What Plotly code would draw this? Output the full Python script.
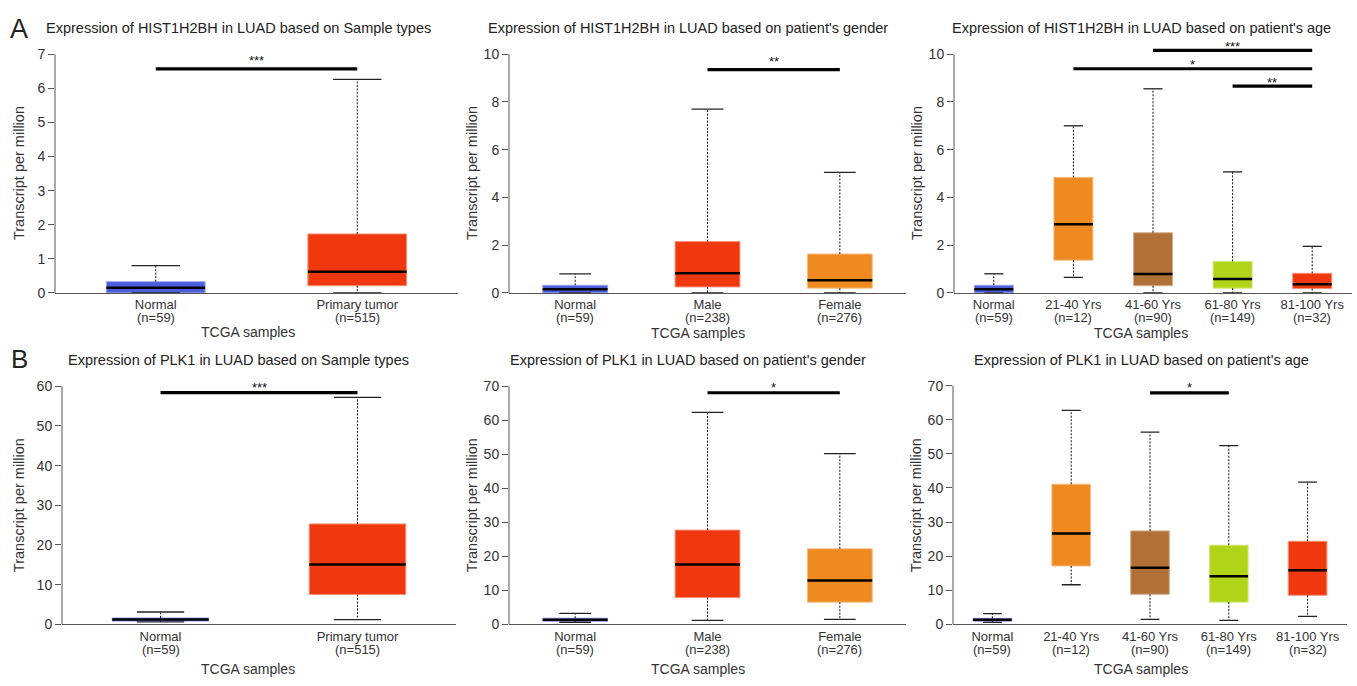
import plotly.graph_objects as go

OFF = 0
W, H = 1357, 686
FONT = "Liberation Sans, Arial, Helvetica, sans-serif"

# ---------------- data ----------------
cats_type = ["Normal", "Primary tumor"]
ns_type = ["(n=59)", "(n=515)"]
cats_gender = ["Normal", "Male", "Female"]
ns_gender = ["(n=59)", "(n=238)", "(n=276)"]
cats_age = ["Normal", "21-40 Yrs", "41-60 Yrs", "61-80 Yrs", "81-100 Yrs"]
ns_age = ["(n=59)", "(n=12)", "(n=90)", "(n=149)", "(n=32)"]

BLUE, RED, ORANGE, BROWN, GREEN = "#4b5fdd", "#f0380f", "#ee8a20", "#b07038", "#b0d418"
colors_type = [BLUE, RED]
colors_gender = [BLUE, RED, ORANGE]
colors_age = [BLUE, ORANGE, BROWN, GREEN, RED]

# HIST1H2BH
hA_type_low = [0.0, 0.0]
hA_type_q1 = [0.0, 0.21]
hA_type_med = [0.15, 0.62]
hA_type_q3 = [0.33, 1.73]
hA_type_up = [0.80, 6.26]

hA_gen_low = [0.0, 0.0, 0.0]
hA_gen_q1 = [0.0, 0.25, 0.20]
hA_gen_med = [0.15, 0.82, 0.53]
hA_gen_q3 = [0.32, 2.15, 1.63]
hA_gen_up = [0.80, 7.70, 5.05]

hA_age_low = [0.0, 0.65, 0.0, 0.0, 0.0]
hA_age_q1 = [0.0, 1.37, 0.30, 0.20, 0.18]
hA_age_med = [0.15, 2.88, 0.79, 0.58, 0.36]
hA_age_q3 = [0.32, 4.84, 2.52, 1.32, 0.82]
hA_age_up = [0.80, 7.00, 8.55, 5.07, 1.95]

# PLK1
pB_type_low = [0.6, 1.2]
pB_type_q1 = [0.8, 7.5]
pB_type_med = [1.2, 15.1]
pB_type_q3 = [1.6, 25.3]
pB_type_up = [3.1, 57.2]

pB_gen_low = [0.6, 1.15, 1.45]
pB_gen_q1 = [0.9, 7.85, 6.5]
pB_gen_med = [1.3, 17.6, 12.9]
pB_gen_q3 = [1.8, 27.7, 22.2]
pB_gen_up = [3.2, 62.3, 50.2]

pB_age_low = [0.57, 11.6, 1.43, 1.15, 2.3]
pB_age_q1 = [0.9, 17.1, 8.8, 6.5, 8.5]
pB_age_med = [1.34, 26.6, 16.6, 14.1, 15.85]
pB_age_q3 = [1.75, 41.1, 27.4, 23.2, 24.35]
pB_age_up = [3.15, 62.75, 56.35, 52.4, 41.7]

# significance bars: (from index, to index, y, label)
sig_A_type = [(0, 1, 6.57, "***")]
sig_A_gen = [(1, 2, 9.35, "**")]
sig_A_age = [(2, 4, 10.16, "***"), (1, 4, 9.39, "*"), (3, 4, 8.66, "**")]
sig_B_type = [(0, 1, 58.4, "***")]
sig_B_gen = [(1, 2, 68.1, "*")]
sig_B_age = [(2, 3, 67.9, "*")]

titles = [
    "Expression of HIST1H2BH in LUAD based on Sample types",
    "Expression of HIST1H2BH in LUAD based on patient's gender",
    "Expression of HIST1H2BH in LUAD based on patient's age",
    "Expression of PLK1 in LUAD based on Sample types",
    "Expression of PLK1 in LUAD based on patient's gender",
    "Expression of PLK1 in LUAD based on patient's age",
]

panels = [
    dict(cats=cats_type, ns=ns_type, cols=colors_type, low=hA_type_low, q1=hA_type_q1, med=hA_type_med,
         q3=hA_type_q3, up=hA_type_up, sig=sig_A_type, top=7, step=1, rmax=7),
    dict(cats=cats_gender, ns=ns_gender, cols=colors_gender, low=hA_gen_low, q1=hA_gen_q1, med=hA_gen_med,
         q3=hA_gen_q3, up=hA_gen_up, sig=sig_A_gen, top=10, step=2, rmax=10),
    dict(cats=cats_age, ns=ns_age, cols=colors_age, low=hA_age_low, q1=hA_age_q1, med=hA_age_med,
         q3=hA_age_q3, up=hA_age_up, sig=sig_A_age, top=10, step=2, rmax=10.3),
    dict(cats=cats_type, ns=ns_type, cols=colors_type, low=pB_type_low, q1=pB_type_q1, med=pB_type_med,
         q3=pB_type_q3, up=pB_type_up, sig=sig_B_type, top=60, step=10, rmax=60),
    dict(cats=cats_gender, ns=ns_gender, cols=colors_gender, low=pB_gen_low, q1=pB_gen_q1, med=pB_gen_med,
         q3=pB_gen_q3, up=pB_gen_up, sig=sig_B_gen, top=70, step=10, rmax=70),
    dict(cats=cats_age, ns=ns_age, cols=colors_age, low=pB_age_low, q1=pB_age_q1, med=pB_age_med,
         q3=pB_age_q3, up=pB_age_up, sig=sig_B_age, top=70, step=10, rmax=70),
]

# ---------------- layout geometry (reference pixels) ----------------
x_px = [(55, 458), (509, 906), (954, 1352), (62, 456), (509, 906), (953, 1347)]
row_px = [(291.7, 47.3), (291.7, 47.3), (291.7, 47.3), (631, 387.3), (631, 387.3), (631, 386.7)]
title_pos = [(238, 20), (688, 20), (1141, 20), (238, 360), (688, 360), (1141, 360)]
ytitle_pos = [(19, 169), (472, 169), (917, 169), (19, 509), (472, 509), (916, 509)]
xtitle_pos = [(248, 332), (698, 333), (1141, 333), (248, 677), (698, 677), (1141, 677)]
star_gap = [11.6, 11.6, 7.5, 9, 9, 9]
N_OFFSET = 14.5

BOXW = 0.49
CAPW = 0.24
AXCOL = "#555555"


def px(x):
    return min(max((x - OFF) / W, 0), 1)


def py(y):
    return min(max(1 - (y - OFF) / H, 0), 1)


def tint(hexcol, f=0.45):
    h = hexcol.lstrip("#")
    r, g, b = int(h[0:2], 16), int(h[2:4], 16), int(h[4:6], 16)
    r, g, b = [int(c + (255 - c) * f) for c in (r, g, b)]
    return f"rgb({r},{g},{b})"


fig = go.Figure()
shapes, annotations = [], []
layout_axes = {}

for k, p in enumerate(panels):
    idx = "" if k == 0 else str(k + 1)
    xa, ya = "x" + idx, "y" + idx
    n = len(p["cats"])
    pos = list(range(n))

    # boxes
    fig.add_trace(go.Bar(
        x=pos, y=[b - a for a, b in zip(p["q1"], p["q3"])], base=p["q1"], width=BOXW,
        marker=dict(color=p["cols"], line=dict(color=[tint(c) for c in p["cols"]], width=1)),
        xaxis=xa, yaxis=ya, showlegend=False, hoverinfo="skip"))

    # whiskers (dashed)
    wx, wy = [], []
    for i in pos:
        wx += [i, i, None, i, i, None]
        wy += [p["q3"][i], p["up"][i], None, p["q1"][i], p["low"][i], None]
    fig.add_trace(go.Scatter(x=wx, y=wy, mode="lines", line=dict(color="#111", width=1, dash="2px,1.5px"),
                             xaxis=xa, yaxis=ya, showlegend=False, hoverinfo="skip"))
    # caps
    cx, cy = [], []
    for i in pos:
        cx += [i - CAPW / 2, i + CAPW / 2, None, i - CAPW / 2, i + CAPW / 2, None]
        cy += [p["up"][i], p["up"][i], None, p["low"][i], p["low"][i], None]
    fig.add_trace(go.Scatter(x=cx, y=cy, mode="lines", line=dict(color="#222", width=1.3),
                             xaxis=xa, yaxis=ya, showlegend=False, hoverinfo="skip"))
    # medians
    mx, my = [], []
    for i in pos:
        mx += [i - BOXW / 2, i + BOXW / 2, None]
        my += [p["med"][i], p["med"][i], None]
    fig.add_trace(go.Scatter(x=mx, y=my, mode="lines", line=dict(color="#000", width=2.5),
                             xaxis=xa, yaxis=ya, showlegend=False, hoverinfo="skip"))
    # significance bars
    sx, sy = [], []
    for (a, b, yv, lab) in p["sig"]:
        sx += [a, b, None]
        sy += [yv, yv, None]
        annotations.append(dict(x=(a + b) / 2, y=yv, xref=xa, yref=ya, text=lab, showarrow=False,
                                yanchor="middle", xanchor="center", yshift=star_gap[k] - 3.5,
                                font=dict(family=FONT, size=13, color="#111")))
    fig.add_trace(go.Scatter(x=sx, y=sy, mode="lines", line=dict(color="#000", width=3.2),
                             xaxis=xa, yaxis=ya, showlegend=False, hoverinfo="skip"))

    # axes geometry
    xl, xr = x_px[k]
    y0px, ytpx = row_px[k]
    ppu = (y0px - ytpx) / p["top"]
    domtop_px = y0px - p["rmax"] * ppu
    ticks = list(range(0, p["top"] + 1, p["step"]))
    xr_eff = min(xr, OFF + W)
    layout_axes["xaxis" + idx] = dict(
        domain=[px(xl), px(xr_eff)], range=[-0.5, -0.5 + n * (xr_eff - xl) / (xr - xl)], anchor=ya,
        tickvals=pos, ticktext=p["cats"], ticks="", showgrid=False, zeroline=False,
        showline=True, linecolor=AXCOL, linewidth=1,
        tickfont=dict(family=FONT, size=13, color="#333"), fixedrange=True)
    layout_axes["yaxis" + idx] = dict(
        domain=[py(y0px), py(domtop_px)], range=[0, p["rmax"]], anchor=xa,
        tickvals=ticks, ticks="outside", ticklen=6, tickcolor=AXCOL, tickwidth=1,
        showgrid=False, zeroline=False, showline=False,
        tickfont=dict(family=FONT, size=14, color="#333"), fixedrange=True)
    # y axis line, only up to the top tick
    shapes.append(dict(type="line", xref="paper", yref="paper",
                       x0=px(xl), x1=px(xl), y0=py(y0px), y1=py(ytpx),
                       line=dict(color=AXCOL, width=1)))

    # sample counts under the category names
    for i in pos:
        annotations.append(dict(x=i, y=py(y0px), xref=xa, yref="paper", text=p["ns"][i],
                                showarrow=False, xanchor="center", yanchor="middle",
                                yshift=-(10.5 + N_OFFSET),
                                font=dict(family=FONT, size=13, color="#333")))

    # texts
    tx, ty = title_pos[k]
    annotations.append(dict(x=px(tx), y=py(ty), xref="paper", yref="paper", text=titles[k],
                            showarrow=False, xanchor="center", yanchor="middle",
                            font=dict(family=FONT, size=14.5, color="#222")))
    yx, yy = ytitle_pos[k]
    annotations.append(dict(x=px(yx), y=py(yy), xref="paper", yref="paper",
                            text="Transcript per million", textangle=-90, showarrow=False,
                            xanchor="center", yanchor="middle",
                            font=dict(family=FONT, size=14.5, color="#333")))
    gx, gy = xtitle_pos[k]
    annotations.append(dict(x=px(gx), y=py(gy), xref="paper", yref="paper",
                            text="TCGA samples", showarrow=False, xanchor="center", yanchor="middle",
                            font=dict(family=FONT, size=14, color="#333")))

# panel letters
annotations.append(dict(x=px(19), y=py(22), xref="paper", yref="paper", text="A", showarrow=False,
                        xanchor="center", yanchor="middle", font=dict(family=FONT, size=27, color="#222")))
annotations.append(dict(x=px(19), y=py(359), xref="paper", yref="paper", text="B", showarrow=False,
                        xanchor="center", yanchor="middle", font=dict(family=FONT, size=26, color="#222")))

fig.update_layout(
    width=W, height=H, margin=dict(l=0, r=0, t=0, b=0),
    paper_bgcolor="white", plot_bgcolor="white",
    barmode="overlay", showlegend=False,
    shapes=shapes, annotations=annotations,
    font=dict(family=FONT),
    **layout_axes,
)

fig.write_html("out.html", config={"displayModeBar": False})
